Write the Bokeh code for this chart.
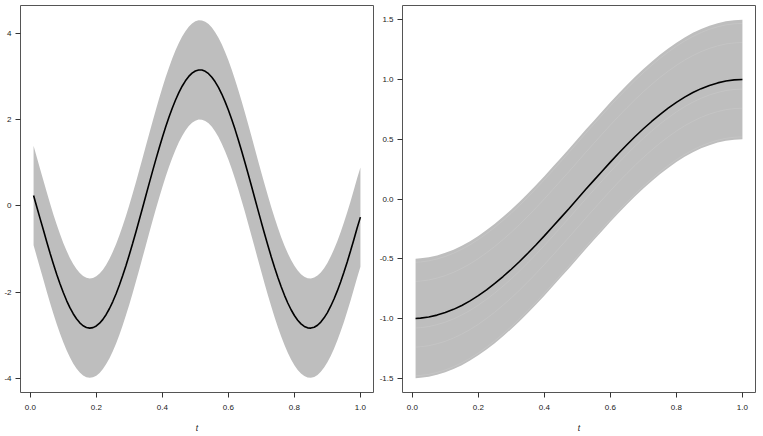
from bokeh.plotting import figure
from bokeh.layouts import row
from bokeh.models import Range1d, FixedTicker, PrintfTickFormatter
from bokeh.embed import file_html
from bokeh.resources import INLINE

# ---- left panel data ----
t_left = [round(0.01 * i, 2) for i in range(1, 101)]  # t = 0.01 ... 1.00
mean_left = [0.24, -0.03, -0.30, -0.565, -0.835, -1.096, -1.346, -1.583, -1.802, -2.006,
             -2.191, -2.355, -2.496, -2.613, -2.706, -2.774, -2.815, -2.830, -2.818, -2.780,
             -2.716, -2.627, -2.513, -2.375, -2.214, -2.033, -1.832, -1.612, -1.378, -1.130,
             -0.870, -0.602, -0.326, -0.047, 0.235, 0.516, 0.794, 1.066, 1.330, 1.584,
             1.826, 2.051, 2.261, 2.452, 2.623, 2.771, 2.896, 2.998, 3.074, 3.124,
             3.148, 3.145, 3.116, 3.061, 2.980, 2.873, 2.743, 2.590, 2.415, 2.222,
             2.008, 1.778, 1.534, 1.278, 1.012, 0.739, 0.460, 0.179, -0.103, -0.382,
             -0.656, -0.923, -1.181, -1.426, -1.658, -1.873, -2.070, -2.248, -2.404, -2.537,
             -2.647, -2.731, -2.790, -2.823, -2.829, -2.809, -2.762, -2.689, -2.592, -2.469,
             -2.323, -2.156, -1.968, -1.760, -1.536, -1.297, -1.045, -0.782, -0.511, -0.26]
band_left = 1.15
yticks_left = [-4, -2, 0, 2, 4]

# ---- right panel data ----
t_right = [0.01, 0.025, 0.05, 0.075, 0.10, 0.125, 0.15, 0.175, 0.20, 0.225, 0.25,
           0.275, 0.30, 0.325, 0.35, 0.375, 0.40, 0.425, 0.45, 0.475, 0.50,
           0.525, 0.55, 0.575, 0.60, 0.625, 0.65, 0.675, 0.70, 0.725, 0.75,
           0.775, 0.80, 0.825, 0.85, 0.875, 0.90, 0.925, 0.95, 0.975, 1.00]
mean_right = [-1.000, -0.997, -0.988, -0.972, -0.951, -0.924, -0.891, -0.853, -0.809, -0.760, -0.707,
              -0.649, -0.588, -0.523, -0.454, -0.383, -0.309, -0.233, -0.156, -0.079, 0.0,
              0.079, 0.156, 0.233, 0.309, 0.383, 0.454, 0.523, 0.588, 0.649, 0.707,
              0.760, 0.809, 0.853, 0.891, 0.924, 0.951, 0.972, 0.988, 0.997, 1.000]
band_right = 0.5
seam_offsets_right = [0.47, 0.31, -0.08, -0.24, -0.48]
yticks_right = [-1.5, -1.0, -0.5, 0.0, 0.5, 1.0, 1.5]

xticks = [0.0, 0.2, 0.4, 0.6, 0.8, 1.0]

FONT = "Liberation Sans"
BAND = "#BEBEBE"


def style(p, yticks, yfmt):
    p.xaxis.ticker = FixedTicker(ticks=xticks)
    p.yaxis.ticker = FixedTicker(ticks=yticks)
    p.xaxis.formatter = PrintfTickFormatter(format="%.1f")
    p.yaxis.formatter = PrintfTickFormatter(format=yfmt)
    for ax in (p.xaxis, p.yaxis):
        ax.axis_line_color = None
        ax.major_tick_line_color = "#333333"
        ax.major_tick_out = 5
        ax.major_tick_in = 0
        ax.minor_tick_line_color = None
        ax.major_label_text_font = FONT
        ax.major_label_text_font_size = "8px"
        ax.major_label_text_color = "#222222"
        ax.major_label_standoff = 4
    p.xaxis.major_label_standoff = 7
    p.xaxis.axis_label = "t"
    p.xaxis.axis_label_text_font = FONT
    p.xaxis.axis_label_text_font_style = "italic"
    p.xaxis.axis_label_text_font_size = "8.5px"
    p.xaxis.axis_label_text_color = "#222222"
    p.xaxis.axis_label_standoff = 10
    p.xgrid.grid_line_color = None
    p.ygrid.grid_line_color = None
    p.outline_line_color = "#555555"
    p.outline_line_width = 1
    p.background_fill_color = "white"
    p.border_fill_color = "white"


p1 = figure(width=376, height=436, output_backend="svg", toolbar_location=None,
            x_range=Range1d(-0.0296, 1.0396), y_range=Range1d(-4.32, 4.64),
            min_border_left=20, min_border_right=3, min_border_top=5, min_border_bottom=44)
lo_l = [m - band_left for m in mean_left]
hi_l = [m + band_left for m in mean_left]
p1.varea(x=t_left, y1=lo_l, y2=hi_l, fill_color=BAND)
p1.line(t_left, mean_left, line_color="black", line_width=1.6)
style(p1, yticks_left, "%d")

p2 = figure(width=387, height=436, output_backend="svg", toolbar_location=None,
            x_range=Range1d(-0.0296, 1.0396), y_range=Range1d(-1.62, 1.62),
            min_border_left=26, min_border_right=8, min_border_top=5, min_border_bottom=44)
lo_r = [m - band_right for m in mean_right]
hi_r = [m + band_right for m in mean_right]
p2.varea(x=t_right, y1=lo_r, y2=hi_r, fill_color=BAND)
for off in seam_offsets_right:
    p2.line(t_right, [m + off for m in mean_right], line_color="white", line_alpha=0.18, line_width=0.6)
p2.line(t_right, mean_right, line_color="black", line_width=1.6)
style(p2, yticks_right, "%.1f")

layout = row(p1, p2, spacing=0)
open("out.html", "w").write(file_html(layout, INLINE))
